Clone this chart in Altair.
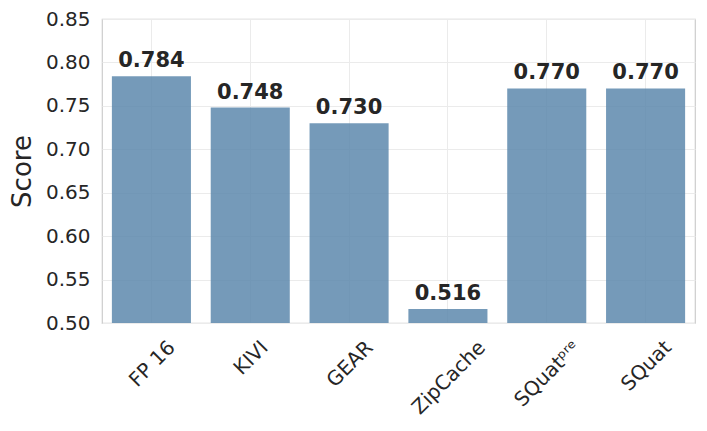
import altair as alt
import pandas as pd

methods = ["FP 16", "KIVI", "GEAR", "ZipCache", "SQuatᵖʳᵉ", "SQuat"]
scores = [0.784, 0.748, 0.730, 0.516, 0.770, 0.770]
labels = ["0.784", "0.748", "0.730", "0.516", "0.770", "0.770"]
y_ticks = [0.50, 0.55, 0.60, 0.65, 0.70, 0.75, 0.80, 0.85]

df = pd.DataFrame({"method": methods, "score": scores, "label": labels})

# horizontal shift so each rotated label's box is centred under its bar
shift = {"FP 16": 13.6, "KIVI": 7.6, "GEAR": 13.7, "ZipCache": 27.3,
         "SQuatᵖʳᵉ": 23.3, "SQuat": 15.6}
expr = " : ".join(f"datum.value == '{k}' ? {v}" for k, v in shift.items()) + " : 0"

FONT = "DejaVu Sans"
x_enc = alt.X("method:N", sort=methods,
              scale=alt.Scale(paddingInner=0.2, paddingOuter=0.1),
              axis=alt.Axis(title=None, labelAngle=-45, labelAlign="right",
                            labelBaseline="top", labelFontSize=20,
                            labelColor="#262626", labelFont=FONT,
                            labelPadding=14, labelOffset={"expr": expr},
                            ticks=False, tickSize=0, domain=False,
                            grid=True, gridColor="#ebebeb", bandPosition=0.5))
y_scale = alt.Scale(domain=[0.50, 0.85], nice=False, zero=False)

bars = alt.Chart(df).mark_bar(color="#5d88ad", opacity=0.85).encode(
    x=x_enc,
    y=alt.Y("score:Q", scale=y_scale,
            axis=alt.Axis(title="Score", values=y_ticks, format=".2f",
                          labelFontSize=20, labelColor="#262626", labelFont=FONT,
                          titleFontSize=26, titleFont=FONT, titleColor="#262626",
                          titleFontWeight="normal", titlePadding=10,
                          labelPadding=12, ticks=False, tickSize=0, domain=False,
                          grid=True, gridColor="#ebebeb")),
    y2=alt.datum(0.50),
)

text = alt.Chart(df).mark_text(font=FONT, fontSize=21, fontWeight="bold",
                               color="#262626", baseline="alphabetic", dy=-9).encode(
    x=alt.X("method:N", sort=methods),
    y=alt.Y("score:Q", scale=y_scale),
    text="label:N",
)

chart = alt.layer(bars, text).properties(
    width=593, height=304,
    autosize=alt.AutoSizeParams(type="none"),
    padding={"left": 94, "top": 11, "right": 4, "bottom": 100},
).configure_view(stroke="#cccccc", strokeWidth=1.2)

chart.save("out.html", embed_options={"renderer": "svg", "actions": False})
